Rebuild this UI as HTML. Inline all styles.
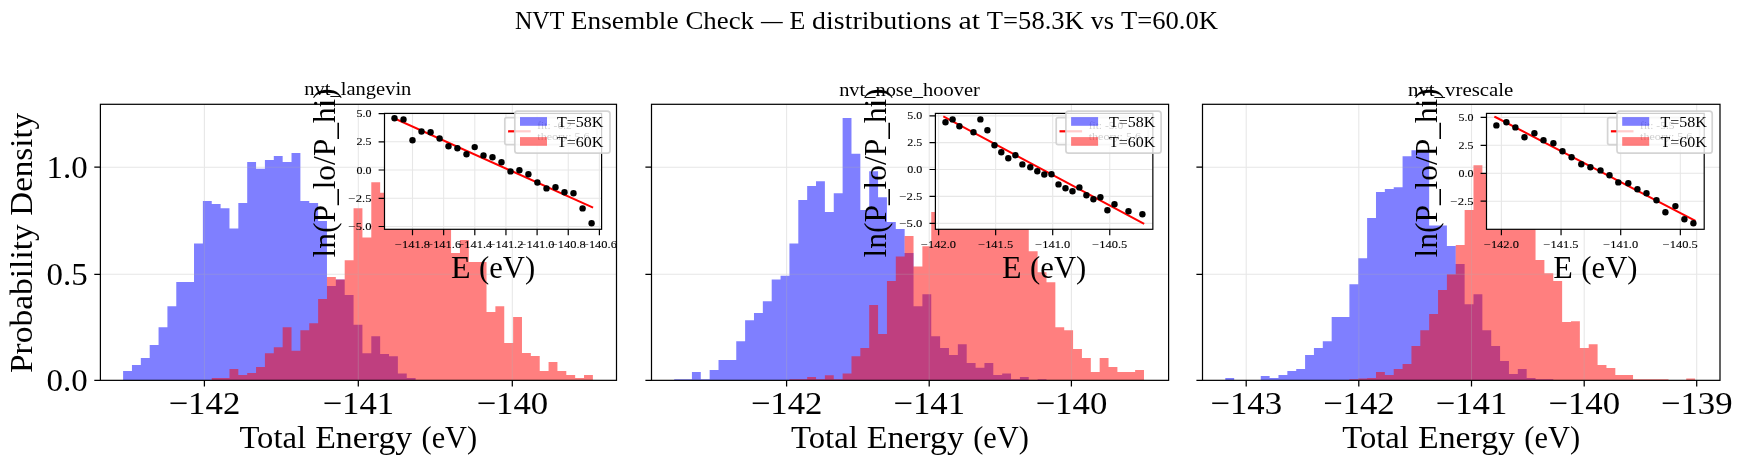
<!DOCTYPE html>
<html lang="en">
<head>
<meta charset="utf-8">
<title>NVT Ensemble Check</title>
<style>
html,body{margin:0;padding:0;background:#fff;}
body{width:1744px;height:465px;overflow:hidden;font-family:"Liberation Serif",serif;}
svg{display:block;will-change:transform;}
svg text{font-family:"Liberation Serif",serif;fill:#000;}
</style>
</head>
<body>
<svg width="1744" height="465" viewBox="0 0 1744 465">
<rect x="0" y="0" width="1744" height="465" fill="#fff"/>
<g id="panel1">
<path d="M123.10,380.35L123.10,371.10L131.96,371.10L131.96,365.10L140.83,365.10L140.83,358.00L149.69,358.00L149.69,345.10L158.56,345.10L158.56,327.20L167.42,327.20L167.42,306.30L176.28,306.30L176.28,282.10L185.15,282.10L185.15,282.10L194.01,282.10L194.01,243.50L202.88,243.50L202.88,201.00L211.74,201.00L211.74,204.00L220.60,204.00L220.60,208.20L229.47,208.20L229.47,228.50L238.33,228.50L238.33,203.10L247.20,203.10L247.20,161.90L256.06,161.90L256.06,168.80L264.92,168.80L264.92,160.10L273.79,160.10L273.79,155.90L282.65,155.90L282.65,161.90L291.52,161.90L291.52,152.90L300.38,152.90L300.38,201.00L309.24,201.00L309.24,203.10L318.11,203.10L318.11,221.10L326.97,221.10L326.97,285.90L335.84,285.90L335.84,279.60L344.70,279.60L344.70,294.90L353.56,294.90L353.56,324.80L362.43,324.80L362.43,353.20L371.29,353.20L371.29,336.20L380.16,336.20L380.16,354.10L389.02,354.10L389.02,356.20L397.88,356.20L397.88,373.50L406.75,373.50L406.75,378.00L415.61,378.00L415.61,380.35Z" fill="#0000ff" fill-opacity="0.5"/>
<path d="M211.74,380.35L211.74,378.00L220.60,378.00L220.60,378.00L229.47,378.00L229.47,369.00L238.33,369.00L238.33,375.00L247.20,375.00L247.20,372.90L256.06,372.90L256.06,366.90L264.92,366.90L264.92,353.20L273.79,353.20L273.79,347.20L282.65,347.20L282.65,327.20L291.52,327.20L291.52,350.80L300.38,350.80L300.38,330.20L309.24,330.20L309.24,323.30L318.11,323.30L318.11,299.10L326.97,299.10L326.97,277.00L335.84,277.00L335.84,279.60L344.70,279.60L344.70,260.30L353.56,260.30L353.56,208.20L362.43,208.20L362.43,237.50L371.29,237.50L371.29,182.20L380.16,182.20L380.16,192.70L389.02,192.70L389.02,175.00L397.88,175.00L397.88,160.00L406.75,160.00L406.75,150.00L415.61,150.00L415.61,165.00L424.48,165.00L424.48,158.00L433.34,158.00L433.34,172.00L442.20,172.00L442.20,185.00L451.07,185.00L451.07,253.00L459.93,253.00L459.93,240.00L468.80,240.00L468.80,262.10L477.66,262.10L477.66,262.10L486.52,262.10L486.52,311.90L495.39,311.90L495.39,306.30L504.25,306.30L504.25,343.00L513.12,343.00L513.12,317.00L521.98,317.00L521.98,353.00L530.84,353.00L530.84,356.00L539.71,356.00L539.71,371.10L548.57,371.10L548.57,362.00L557.44,362.00L557.44,371.10L566.30,371.10L566.30,375.10L575.16,375.10L575.16,378.10L584.03,378.10L584.03,375.10L592.89,375.10L592.89,380.35Z" fill="#ff0000" fill-opacity="0.5"/>
<path d="M204.40,104.3V380.35M358.30,104.3V380.35M512.30,104.3V380.35M100.4,274.3H616.50M100.4,167.2H616.50" stroke="#b0b0b0" stroke-opacity="0.3" stroke-width="1.08" fill="none"/>
<path d="M204.40,380.35v6.1M358.30,380.35v6.1M512.30,380.35v6.1M100.4,380.3h-6.1M100.4,274.3h-6.1M100.4,167.2h-6.1" stroke="#000" stroke-width="1.25" fill="none"/>
<rect x="100.4" y="104.3" width="516.10" height="276.05" fill="none" stroke="#000" stroke-width="1.22"/>
<text x="204.40" y="414.00" font-size="32.16" text-anchor="middle" textLength="71.77" lengthAdjust="spacingAndGlyphs">−142</text>
<text x="358.30" y="414.00" font-size="32.16" text-anchor="middle" textLength="71.77" lengthAdjust="spacingAndGlyphs">−141</text>
<text x="512.30" y="414.00" font-size="32.16" text-anchor="middle" textLength="71.77" lengthAdjust="spacingAndGlyphs">−140</text>
<text x="87.60" y="390.90" font-size="32.16" text-anchor="end" textLength="41.13" lengthAdjust="spacingAndGlyphs">0.0</text>
<text x="87.60" y="284.90" font-size="32.16" text-anchor="end" textLength="41.13" lengthAdjust="spacingAndGlyphs">0.5</text>
<text x="87.60" y="177.80" font-size="32.16" text-anchor="end" textLength="41.13" lengthAdjust="spacingAndGlyphs">1.0</text>
<text y="243.00" font-size="30.55" text-anchor="start" transform="rotate(-90 31.60 243.00)"><tspan x="-98.53" textLength="148.89" lengthAdjust="spacingAndGlyphs">Probability</tspan> <tspan x="58.88" textLength="102.84" lengthAdjust="spacingAndGlyphs">Density</tspan></text>
<text y="447.80" font-size="30.55" text-anchor="start"><tspan x="239.45" textLength="66.71" lengthAdjust="spacingAndGlyphs">Total</tspan> <tspan x="315.22" textLength="97.01" lengthAdjust="spacingAndGlyphs">Energy</tspan> <tspan x="421.53" textLength="55.68" lengthAdjust="spacingAndGlyphs">(eV)</tspan></text>
<text x="357.85" y="95.00" font-size="18.42" text-anchor="middle" textLength="107.07" lengthAdjust="spacingAndGlyphs">nvt_langevin</text>
<rect x="384.50" y="113.4" width="217.10" height="115.90" fill="#fff"/>
<path d="M412.50,113.4V229.3M443.65,113.4V229.3M474.80,113.4V229.3M505.95,113.4V229.3M537.10,113.4V229.3M568.25,113.4V229.3M599.40,113.4V229.3M384.50,113.6H601.60M384.50,141.8H601.60M384.50,170.0H601.60M384.50,198.3H601.60M384.50,226.5H601.60" stroke="#b0b0b0" stroke-opacity="0.3" stroke-width="1.08" fill="none"/>
<path d="M394.5,118.4L592.2,207.3" stroke="#ff0000" stroke-width="2.0" stroke-linecap="square" fill="none"/>
<g fill="#000"><circle cx="394.5" cy="118.3" r="3.2"/><circle cx="403.5" cy="119.4" r="3.2"/><circle cx="412.5" cy="140.3" r="3.2"/><circle cx="421.5" cy="131.5" r="3.2"/><circle cx="430.6" cy="132.3" r="3.2"/><circle cx="439.6" cy="138.5" r="3.2"/><circle cx="448.5" cy="146.3" r="3.2"/><circle cx="457.4" cy="148.3" r="3.2"/><circle cx="466.5" cy="154.2" r="3.2"/><circle cx="474.7" cy="147.1" r="3.2"/><circle cx="483.5" cy="155.4" r="3.2"/><circle cx="492.5" cy="157.2" r="3.2"/><circle cx="501.5" cy="162.3" r="3.2"/><circle cx="510.5" cy="171.4" r="3.2"/><circle cx="519.4" cy="170.3" r="3.2"/><circle cx="528.4" cy="174.2" r="3.2"/><circle cx="537.4" cy="182.5" r="3.2"/><circle cx="546.5" cy="188.4" r="3.2"/><circle cx="555.5" cy="187.2" r="3.2"/><circle cx="564.5" cy="192.3" r="3.2"/><circle cx="573.5" cy="193.3" r="3.2"/><circle cx="582.6" cy="208.4" r="3.2"/><circle cx="591.6" cy="223.3" r="3.2"/></g>
<path d="M412.50,229.3v5.9M443.65,229.3v5.9M474.80,229.3v5.9M505.95,229.3v5.9M537.10,229.3v5.9M568.25,229.3v5.9M599.40,229.3v5.9M384.50,113.6h-5.9M384.50,141.8h-5.9M384.50,170.0h-5.9M384.50,198.3h-5.9M384.50,226.5h-5.9" stroke="#000" stroke-width="1.2" fill="none"/>
<rect x="384.50" y="113.4" width="217.10" height="115.90" fill="none" stroke="#000" stroke-width="1.2"/>
<text x="412.50" y="248.20" font-size="10.58" text-anchor="middle" textLength="34.97" lengthAdjust="spacingAndGlyphs" stroke="#000" stroke-width="0.1">−141.8</text>
<text x="443.65" y="248.20" font-size="10.58" text-anchor="middle" textLength="34.97" lengthAdjust="spacingAndGlyphs" stroke="#000" stroke-width="0.1">−141.6</text>
<text x="474.80" y="248.20" font-size="10.58" text-anchor="middle" textLength="34.97" lengthAdjust="spacingAndGlyphs" stroke="#000" stroke-width="0.1">−141.4</text>
<text x="505.95" y="248.20" font-size="10.58" text-anchor="middle" textLength="34.97" lengthAdjust="spacingAndGlyphs" stroke="#000" stroke-width="0.1">−141.2</text>
<text x="537.10" y="248.20" font-size="10.58" text-anchor="middle" textLength="34.97" lengthAdjust="spacingAndGlyphs" stroke="#000" stroke-width="0.1">−141.0</text>
<text x="568.25" y="248.20" font-size="10.58" text-anchor="middle" textLength="34.97" lengthAdjust="spacingAndGlyphs" stroke="#000" stroke-width="0.1">−140.8</text>
<text x="599.40" y="248.20" font-size="10.58" text-anchor="middle" textLength="34.97" lengthAdjust="spacingAndGlyphs" stroke="#000" stroke-width="0.1">−140.6</text>
<text x="371.50" y="117.10" font-size="10.58" text-anchor="end" textLength="15.03" lengthAdjust="spacingAndGlyphs" stroke="#000" stroke-width="0.1">5.0</text>
<text x="371.50" y="145.30" font-size="10.58" text-anchor="end" textLength="15.03" lengthAdjust="spacingAndGlyphs" stroke="#000" stroke-width="0.1">2.5</text>
<text x="371.50" y="173.50" font-size="10.58" text-anchor="end" textLength="15.03" lengthAdjust="spacingAndGlyphs" stroke="#000" stroke-width="0.1">0.0</text>
<text x="371.50" y="201.80" font-size="10.58" text-anchor="end" textLength="22.95" lengthAdjust="spacingAndGlyphs" stroke="#000" stroke-width="0.1">−2.5</text>
<text x="371.50" y="230.00" font-size="10.58" text-anchor="end" textLength="22.95" lengthAdjust="spacingAndGlyphs" stroke="#000" stroke-width="0.1">−5.0</text>
<text y="278.00" font-size="30.55" text-anchor="start"><tspan x="450.95" textLength="19.56" lengthAdjust="spacingAndGlyphs">E</tspan> <tspan x="479.03" textLength="56.13" lengthAdjust="spacingAndGlyphs">(eV)</tspan></text>
<text x="335.20" y="172.80" font-size="30.55" text-anchor="middle" textLength="169.18" lengthAdjust="spacingAndGlyphs" transform="rotate(-90 335.20 172.80)">ln(P_lo/P_hi)</text>
<rect x="504.80" y="117.6" width="92.20" height="27.0" rx="1.9" fill="#fff" fill-opacity="0.8" stroke="#ccc" stroke-opacity="0.85" stroke-width="1.7"/>
<path d="M508.10,131.3h22.6" stroke="#ff0000" stroke-width="2.2" fill="none"/>
<text y="129.00" font-size="10.58" text-anchor="start"><tspan x="537.30" textLength="13.28" lengthAdjust="spacingAndGlyphs">fit:</tspan> <tspan x="553.59" textLength="18.22" lengthAdjust="spacingAndGlyphs">-6.2</tspan></text>
<text y="139.80" font-size="10.58" text-anchor="start"><tspan x="537.30" textLength="34.21" lengthAdjust="spacingAndGlyphs">theory:</tspan> <tspan x="574.51" textLength="15.03" lengthAdjust="spacingAndGlyphs">5.6</tspan></text>
<rect x="514.80" y="111.1" width="95.2" height="42.1" rx="2.7" fill="#fff" fill-opacity="0.8" stroke="#ccc" stroke-opacity="0.85" stroke-width="1.7"/>
<rect x="520.00" y="117.1" width="27.0" height="8.7" fill="#0000ff" fill-opacity="0.5"/>
<rect x="520.00" y="137.1" width="27.0" height="8.7" fill="#ff0000" fill-opacity="0.5"/>
<text x="557.00" y="126.70" font-size="14.73" text-anchor="start" textLength="46.35" lengthAdjust="spacingAndGlyphs">T=58K</text>
<text x="557.00" y="146.60" font-size="14.73" text-anchor="start" textLength="46.35" lengthAdjust="spacingAndGlyphs">T=60K</text>
</g>
<g id="panel2">
<path d="M674.20,380.35L674.20,379.20L683.06,379.20L683.06,379.20L691.93,379.20L691.93,372.00L700.79,372.00L700.79,379.20L709.66,379.20L709.66,369.90L718.52,369.90L718.52,360.10L727.38,360.10L727.38,360.10L736.25,360.10L736.25,341.20L745.11,341.20L745.11,320.30L753.98,320.30L753.98,313.10L762.84,313.10L762.84,301.20L771.70,301.20L771.70,279.40L780.57,279.40L780.57,275.80L789.43,275.80L789.43,243.50L798.30,243.50L798.30,200.10L807.16,200.10L807.16,186.10L816.02,186.10L816.02,181.30L824.89,181.30L824.89,212.10L833.75,212.10L833.75,193.30L842.62,193.30L842.62,118.00L851.48,118.00L851.48,153.80L860.34,153.80L860.34,210.00L869.21,210.00L869.21,171.20L878.07,171.20L878.07,197.20L886.94,197.20L886.94,222.00L895.80,222.00L895.80,229.10L904.66,229.10L904.66,253.10L913.53,253.10L913.53,306.30L922.39,306.30L922.39,294.30L931.26,294.30L931.26,336.20L940.12,336.20L940.12,348.10L948.98,348.10L948.98,355.00L957.85,355.00L957.85,344.20L966.71,344.20L966.71,363.10L975.58,363.10L975.58,367.80L984.44,367.80L984.44,363.10L993.30,363.10L993.30,375.00L1002.17,375.00L1002.17,373.50L1011.03,373.50L1011.03,379.20L1019.90,379.20L1019.90,377.10L1028.76,377.10L1028.76,380.35Z M1037.62,380.35L1037.62,379.20L1046.49,379.20L1046.49,380.35Z" fill="#0000ff" fill-opacity="0.5"/>
<path d="M789.43,380.35L789.43,379.20L798.30,379.20L798.30,379.20L807.16,379.20L807.16,377.10L816.02,377.10L816.02,379.20L824.89,379.20L824.89,375.30L833.75,375.30L833.75,379.20L842.62,379.20L842.62,373.50L851.48,373.50L851.48,356.20L860.34,356.20L860.34,348.10L869.21,348.10L869.21,305.10L878.07,305.10L878.07,334.10L886.94,334.10L886.94,280.90L895.80,280.90L895.80,256.40L904.66,256.40L904.66,236.10L913.53,236.10L913.53,266.50L922.39,266.50L922.39,246.20L931.26,246.20L931.26,211.90L940.12,211.90L940.12,180.00L948.98,180.00L948.98,170.00L957.85,170.00L957.85,160.00L966.71,160.00L966.71,175.00L975.58,175.00L975.58,165.00L984.44,165.00L984.44,172.00L993.30,172.00L993.30,180.00L1002.17,180.00L1002.17,190.00L1011.03,190.00L1011.03,200.00L1019.90,200.00L1019.90,215.00L1028.76,215.00L1028.76,251.20L1037.62,251.20L1037.62,272.20L1046.49,272.20L1046.49,282.20L1055.35,282.20L1055.35,327.20L1064.22,327.20L1064.22,330.20L1073.08,330.20L1073.08,349.00L1081.94,349.00L1081.94,358.00L1090.81,358.00L1090.81,372.00L1099.67,372.00L1099.67,358.00L1108.54,358.00L1108.54,366.90L1117.40,366.90L1117.40,372.00L1126.26,372.00L1126.26,372.00L1135.13,372.00L1135.13,369.90L1143.99,369.90L1143.99,380.35Z" fill="#ff0000" fill-opacity="0.5"/>
<path d="M786.60,104.3V380.35M929.20,104.3V380.35M1071.40,104.3V380.35M651.5,274.3H1168.60M651.5,167.2H1168.60" stroke="#b0b0b0" stroke-opacity="0.3" stroke-width="1.08" fill="none"/>
<path d="M786.60,380.35v6.1M929.20,380.35v6.1M1071.40,380.35v6.1M651.5,380.3h-6.1M651.5,274.3h-6.1M651.5,167.2h-6.1" stroke="#000" stroke-width="1.25" fill="none"/>
<rect x="651.5" y="104.3" width="517.10" height="276.05" fill="none" stroke="#000" stroke-width="1.22"/>
<text x="786.60" y="414.00" font-size="32.16" text-anchor="middle" textLength="71.77" lengthAdjust="spacingAndGlyphs">−142</text>
<text x="929.20" y="414.00" font-size="32.16" text-anchor="middle" textLength="71.77" lengthAdjust="spacingAndGlyphs">−141</text>
<text x="1071.40" y="414.00" font-size="32.16" text-anchor="middle" textLength="71.77" lengthAdjust="spacingAndGlyphs">−140</text>
<text y="447.80" font-size="30.55" text-anchor="start"><tspan x="791.05" textLength="66.71" lengthAdjust="spacingAndGlyphs">Total</tspan> <tspan x="866.82" textLength="97.01" lengthAdjust="spacingAndGlyphs">Energy</tspan> <tspan x="973.13" textLength="55.68" lengthAdjust="spacingAndGlyphs">(eV)</tspan></text>
<text x="909.45" y="95.80" font-size="18.42" text-anchor="middle" textLength="140.58" lengthAdjust="spacingAndGlyphs">nvt_nose_hoover</text>
<rect x="935.40" y="113.4" width="217.45" height="115.90" fill="#fff"/>
<path d="M938.60,113.4V229.3M995.65,113.4V229.3M1052.70,113.4V229.3M1109.75,113.4V229.3M935.40,115.9H1152.85M935.40,142.6H1152.85M935.40,169.5H1152.85M935.40,196.4H1152.85M935.40,223.4H1152.85" stroke="#b0b0b0" stroke-opacity="0.3" stroke-width="1.08" fill="none"/>
<path d="M944.2,116.9L1143.3,223.5" stroke="#ff0000" stroke-width="2.0" stroke-linecap="square" fill="none"/>
<g fill="#000"><circle cx="945.5" cy="122.3" r="3.2"/><circle cx="952.6" cy="119.4" r="3.2"/><circle cx="959.4" cy="126.2" r="3.2"/><circle cx="973.5" cy="132.2" r="3.2"/><circle cx="980.4" cy="119.4" r="3.2"/><circle cx="987.4" cy="130.3" r="3.2"/><circle cx="994.5" cy="145.3" r="3.2"/><circle cx="1001.3" cy="152.3" r="3.2"/><circle cx="1008.3" cy="158.2" r="3.2"/><circle cx="1015.4" cy="155.2" r="3.2"/><circle cx="1022.4" cy="164.4" r="3.2"/><circle cx="1030.3" cy="167.2" r="3.2"/><circle cx="1037.3" cy="171.3" r="3.2"/><circle cx="1044.3" cy="174.5" r="3.2"/><circle cx="1051.5" cy="174.3" r="3.2"/><circle cx="1058.5" cy="184.4" r="3.2"/><circle cx="1065.5" cy="188.3" r="3.2"/><circle cx="1072.5" cy="191.3" r="3.2"/><circle cx="1079.4" cy="187.4" r="3.2"/><circle cx="1086.4" cy="195.3" r="3.2"/><circle cx="1093.4" cy="199.3" r="3.2"/><circle cx="1100.4" cy="197.3" r="3.2"/><circle cx="1107.4" cy="210.2" r="3.2"/><circle cx="1114.5" cy="204.3" r="3.2"/><circle cx="1128.5" cy="211.3" r="3.2"/><circle cx="1142.4" cy="214.3" r="3.2"/></g>
<path d="M938.60,229.3v5.9M995.65,229.3v5.9M1052.70,229.3v5.9M1109.75,229.3v5.9M935.40,115.9h-5.9M935.40,142.6h-5.9M935.40,169.5h-5.9M935.40,196.4h-5.9M935.40,223.4h-5.9" stroke="#000" stroke-width="1.2" fill="none"/>
<rect x="935.40" y="113.4" width="217.45" height="115.90" fill="none" stroke="#000" stroke-width="1.2"/>
<text x="938.60" y="248.20" font-size="10.58" text-anchor="middle" textLength="34.97" lengthAdjust="spacingAndGlyphs" stroke="#000" stroke-width="0.1">−142.0</text>
<text x="995.65" y="248.20" font-size="10.58" text-anchor="middle" textLength="34.97" lengthAdjust="spacingAndGlyphs" stroke="#000" stroke-width="0.1">−141.5</text>
<text x="1052.70" y="248.20" font-size="10.58" text-anchor="middle" textLength="34.97" lengthAdjust="spacingAndGlyphs" stroke="#000" stroke-width="0.1">−141.0</text>
<text x="1109.75" y="248.20" font-size="10.58" text-anchor="middle" textLength="34.97" lengthAdjust="spacingAndGlyphs" stroke="#000" stroke-width="0.1">−140.5</text>
<text x="922.40" y="119.40" font-size="10.58" text-anchor="end" textLength="15.03" lengthAdjust="spacingAndGlyphs" stroke="#000" stroke-width="0.1">5.0</text>
<text x="922.40" y="146.10" font-size="10.58" text-anchor="end" textLength="15.03" lengthAdjust="spacingAndGlyphs" stroke="#000" stroke-width="0.1">2.5</text>
<text x="922.40" y="173.00" font-size="10.58" text-anchor="end" textLength="15.03" lengthAdjust="spacingAndGlyphs" stroke="#000" stroke-width="0.1">0.0</text>
<text x="922.40" y="199.90" font-size="10.58" text-anchor="end" textLength="22.95" lengthAdjust="spacingAndGlyphs" stroke="#000" stroke-width="0.1">−2.5</text>
<text x="922.40" y="226.90" font-size="10.58" text-anchor="end" textLength="22.95" lengthAdjust="spacingAndGlyphs" stroke="#000" stroke-width="0.1">−5.0</text>
<text y="278.00" font-size="30.55" text-anchor="start"><tspan x="1002.02" textLength="19.56" lengthAdjust="spacingAndGlyphs">E</tspan> <tspan x="1030.10" textLength="56.13" lengthAdjust="spacingAndGlyphs">(eV)</tspan></text>
<text x="886.30" y="172.80" font-size="30.55" text-anchor="middle" textLength="169.18" lengthAdjust="spacingAndGlyphs" transform="rotate(-90 886.30 172.80)">ln(P_lo/P_hi)</text>
<rect x="1056.20" y="117.6" width="92.05" height="27.0" rx="1.9" fill="#fff" fill-opacity="0.8" stroke="#ccc" stroke-opacity="0.85" stroke-width="1.7"/>
<path d="M1059.50,131.3h22.6" stroke="#ff0000" stroke-width="2.2" fill="none"/>
<text y="129.00" font-size="10.58" text-anchor="start"><tspan x="1088.70" textLength="13.28" lengthAdjust="spacingAndGlyphs">fit:</tspan> <tspan x="1104.99" textLength="18.22" lengthAdjust="spacingAndGlyphs">-5.0</tspan></text>
<text y="139.80" font-size="10.58" text-anchor="start"><tspan x="1088.70" textLength="34.21" lengthAdjust="spacingAndGlyphs">theory:</tspan> <tspan x="1125.91" textLength="15.03" lengthAdjust="spacingAndGlyphs">5.6</tspan></text>
<rect x="1065.90" y="111.1" width="95.2" height="42.1" rx="2.7" fill="#fff" fill-opacity="0.8" stroke="#ccc" stroke-opacity="0.85" stroke-width="1.7"/>
<rect x="1071.10" y="117.1" width="27.0" height="8.7" fill="#0000ff" fill-opacity="0.5"/>
<rect x="1071.10" y="137.1" width="27.0" height="8.7" fill="#ff0000" fill-opacity="0.5"/>
<text x="1109.00" y="126.70" font-size="14.73" text-anchor="start" textLength="46.35" lengthAdjust="spacingAndGlyphs">T=58K</text>
<text x="1109.00" y="146.60" font-size="14.73" text-anchor="start" textLength="46.35" lengthAdjust="spacingAndGlyphs">T=60K</text>
</g>
<g id="panel3">
<path d="M1225.30,380.35L1225.30,378.00L1234.16,378.00L1234.16,380.35Z M1260.76,380.35L1260.76,375.90L1269.62,375.90L1269.62,378.00L1278.48,378.00L1278.48,375.00L1287.35,375.00L1287.35,371.10L1296.21,371.10L1296.21,369.00L1305.08,369.00L1305.08,355.00L1313.94,355.00L1313.94,348.10L1322.80,348.10L1322.80,341.20L1331.67,341.20L1331.67,317.00L1340.53,317.00L1340.53,317.00L1349.40,317.00L1349.40,284.20L1358.26,284.20L1358.26,258.20L1367.12,258.20L1367.12,218.10L1375.99,218.10L1375.99,192.10L1384.85,192.10L1384.85,189.10L1393.72,189.10L1393.72,187.30L1402.58,187.30L1402.58,156.20L1411.44,156.20L1411.44,150.20L1420.31,150.20L1420.31,150.50L1429.17,150.50L1429.17,225.60L1438.04,225.60L1438.04,225.60L1446.90,225.60L1446.90,245.90L1455.76,245.90L1455.76,264.10L1464.63,264.10L1464.63,304.20L1473.49,304.20L1473.49,294.30L1482.36,294.30L1482.36,330.20L1491.22,330.20L1491.22,346.00L1500.08,346.00L1500.08,361.00L1508.95,361.00L1508.95,374.10L1517.81,374.10L1517.81,369.00L1526.68,369.00L1526.68,378.00L1535.54,378.00L1535.54,379.30L1544.40,379.30L1544.40,379.30L1553.27,379.30L1553.27,380.35Z" fill="#0000ff" fill-opacity="0.5"/>
<path d="M1349.40,380.35L1349.40,379.20L1358.26,379.20L1358.26,378.60L1367.12,378.60L1367.12,378.00L1375.99,378.00L1375.99,372.00L1384.85,372.00L1384.85,375.00L1393.72,375.00L1393.72,369.00L1402.58,369.00L1402.58,363.90L1411.44,363.90L1411.44,346.00L1420.31,346.00L1420.31,330.20L1429.17,330.20L1429.17,314.00L1438.04,314.00L1438.04,290.10L1446.90,290.10L1446.90,274.30L1455.76,274.30L1455.76,245.00L1464.63,245.00L1464.63,209.90L1473.49,209.90L1473.49,165.30L1482.36,165.30L1482.36,174.00L1491.22,174.00L1491.22,170.00L1500.08,170.00L1500.08,160.00L1508.95,160.00L1508.95,165.00L1517.81,165.00L1517.81,175.00L1526.68,175.00L1526.68,190.00L1535.54,190.00L1535.54,260.00L1544.40,260.00L1544.40,273.30L1553.27,273.30L1553.27,281.00L1562.13,281.00L1562.13,322.10L1571.00,322.10L1571.00,321.20L1579.86,321.20L1579.86,348.10L1588.72,348.10L1588.72,344.20L1597.59,344.20L1597.59,365.10L1606.45,365.10L1606.45,368.10L1615.32,368.10L1615.32,375.00L1624.18,375.00L1624.18,375.00L1633.04,375.00L1633.04,379.20L1641.91,379.20L1641.91,379.20L1650.77,379.20L1650.77,379.20L1659.64,379.20L1659.64,379.20L1668.50,379.20L1668.50,380.35Z M1686.23,380.35L1686.23,378.60L1695.09,378.60L1695.09,380.35Z" fill="#ff0000" fill-opacity="0.5"/>
<path d="M1246.20,104.3V380.35M1358.80,104.3V380.35M1471.50,104.3V380.35M1584.20,104.3V380.35M1696.70,104.3V380.35M1202.5,274.3H1720.00M1202.5,167.2H1720.00" stroke="#b0b0b0" stroke-opacity="0.3" stroke-width="1.08" fill="none"/>
<path d="M1246.20,380.35v6.1M1358.80,380.35v6.1M1471.50,380.35v6.1M1584.20,380.35v6.1M1696.70,380.35v6.1M1202.5,380.3h-6.1M1202.5,274.3h-6.1M1202.5,167.2h-6.1" stroke="#000" stroke-width="1.25" fill="none"/>
<rect x="1202.5" y="104.3" width="517.50" height="276.05" fill="none" stroke="#000" stroke-width="1.22"/>
<text x="1246.20" y="414.00" font-size="32.16" text-anchor="middle" textLength="71.77" lengthAdjust="spacingAndGlyphs">−143</text>
<text x="1358.80" y="414.00" font-size="32.16" text-anchor="middle" textLength="71.77" lengthAdjust="spacingAndGlyphs">−142</text>
<text x="1471.50" y="414.00" font-size="32.16" text-anchor="middle" textLength="71.77" lengthAdjust="spacingAndGlyphs">−141</text>
<text x="1584.20" y="414.00" font-size="32.16" text-anchor="middle" textLength="71.77" lengthAdjust="spacingAndGlyphs">−140</text>
<text x="1696.70" y="414.00" font-size="32.16" text-anchor="middle" textLength="71.77" lengthAdjust="spacingAndGlyphs">−139</text>
<text y="447.80" font-size="30.55" text-anchor="start"><tspan x="1342.25" textLength="66.71" lengthAdjust="spacingAndGlyphs">Total</tspan> <tspan x="1418.02" textLength="97.01" lengthAdjust="spacingAndGlyphs">Energy</tspan> <tspan x="1524.33" textLength="55.68" lengthAdjust="spacingAndGlyphs">(eV)</tspan></text>
<text x="1460.65" y="95.80" font-size="18.42" text-anchor="middle" textLength="105.32" lengthAdjust="spacingAndGlyphs">nvt_vrescale</text>
<rect x="1486.50" y="113.4" width="217.70" height="115.90" fill="#fff"/>
<path d="M1501.40,113.4V229.3M1561.05,113.4V229.3M1620.70,113.4V229.3M1680.35,113.4V229.3M1486.50,117.4H1704.20M1486.50,145.3H1704.20M1486.50,173.3H1704.20M1486.50,201.2H1704.20" stroke="#b0b0b0" stroke-opacity="0.3" stroke-width="1.08" fill="none"/>
<path d="M1495.2,117.0L1694.6,220.4" stroke="#ff0000" stroke-width="2.0" stroke-linecap="square" fill="none"/>
<g fill="#000"><circle cx="1496.4" cy="125.4" r="3.2"/><circle cx="1506.4" cy="122.3" r="3.2"/><circle cx="1515.4" cy="127.4" r="3.2"/><circle cx="1524.5" cy="137.3" r="3.2"/><circle cx="1534.4" cy="133.3" r="3.2"/><circle cx="1543.5" cy="140.3" r="3.2"/><circle cx="1553.4" cy="143.3" r="3.2"/><circle cx="1562.5" cy="151.3" r="3.2"/><circle cx="1571.6" cy="157.3" r="3.2"/><circle cx="1581.3" cy="164.2" r="3.2"/><circle cx="1590.4" cy="167.2" r="3.2"/><circle cx="1600.5" cy="170.4" r="3.2"/><circle cx="1609.5" cy="175.2" r="3.2"/><circle cx="1618.3" cy="182.4" r="3.2"/><circle cx="1628.3" cy="183.3" r="3.2"/><circle cx="1637.4" cy="189.2" r="3.2"/><circle cx="1646.5" cy="193.2" r="3.2"/><circle cx="1656.5" cy="200.3" r="3.2"/><circle cx="1665.4" cy="212.2" r="3.2"/><circle cx="1675.4" cy="206.1" r="3.2"/><circle cx="1684.4" cy="219.2" r="3.2"/><circle cx="1693.4" cy="223.2" r="3.2"/></g>
<path d="M1501.40,229.3v5.9M1561.05,229.3v5.9M1620.70,229.3v5.9M1680.35,229.3v5.9M1486.50,117.4h-5.9M1486.50,145.3h-5.9M1486.50,173.3h-5.9M1486.50,201.2h-5.9" stroke="#000" stroke-width="1.2" fill="none"/>
<rect x="1486.50" y="113.4" width="217.70" height="115.90" fill="none" stroke="#000" stroke-width="1.2"/>
<text x="1501.40" y="248.20" font-size="10.58" text-anchor="middle" textLength="34.97" lengthAdjust="spacingAndGlyphs" stroke="#000" stroke-width="0.1">−142.0</text>
<text x="1561.05" y="248.20" font-size="10.58" text-anchor="middle" textLength="34.97" lengthAdjust="spacingAndGlyphs" stroke="#000" stroke-width="0.1">−141.5</text>
<text x="1620.70" y="248.20" font-size="10.58" text-anchor="middle" textLength="34.97" lengthAdjust="spacingAndGlyphs" stroke="#000" stroke-width="0.1">−141.0</text>
<text x="1680.35" y="248.20" font-size="10.58" text-anchor="middle" textLength="34.97" lengthAdjust="spacingAndGlyphs" stroke="#000" stroke-width="0.1">−140.5</text>
<text x="1473.50" y="120.90" font-size="10.58" text-anchor="end" textLength="15.03" lengthAdjust="spacingAndGlyphs" stroke="#000" stroke-width="0.1">5.0</text>
<text x="1473.50" y="148.80" font-size="10.58" text-anchor="end" textLength="15.03" lengthAdjust="spacingAndGlyphs" stroke="#000" stroke-width="0.1">2.5</text>
<text x="1473.50" y="176.80" font-size="10.58" text-anchor="end" textLength="15.03" lengthAdjust="spacingAndGlyphs" stroke="#000" stroke-width="0.1">0.0</text>
<text x="1473.50" y="204.70" font-size="10.58" text-anchor="end" textLength="22.95" lengthAdjust="spacingAndGlyphs" stroke="#000" stroke-width="0.1">−2.5</text>
<text y="278.00" font-size="30.55" text-anchor="start"><tspan x="1553.25" textLength="19.56" lengthAdjust="spacingAndGlyphs">E</tspan> <tspan x="1581.33" textLength="56.13" lengthAdjust="spacingAndGlyphs">(eV)</tspan></text>
<text x="1437.40" y="172.80" font-size="30.55" text-anchor="middle" textLength="169.18" lengthAdjust="spacingAndGlyphs" transform="rotate(-90 1437.40 172.80)">ln(P_lo/P_hi)</text>
<rect x="1607.60" y="117.6" width="92.00" height="27.0" rx="1.9" fill="#fff" fill-opacity="0.8" stroke="#ccc" stroke-opacity="0.85" stroke-width="1.7"/>
<path d="M1610.90,131.3h22.6" stroke="#ff0000" stroke-width="2.2" fill="none"/>
<text y="129.00" font-size="10.58" text-anchor="start"><tspan x="1640.10" textLength="13.28" lengthAdjust="spacingAndGlyphs">fit:</tspan> <tspan x="1656.39" textLength="18.22" lengthAdjust="spacingAndGlyphs">-5.5</tspan></text>
<text y="139.80" font-size="10.58" text-anchor="start"><tspan x="1640.10" textLength="34.21" lengthAdjust="spacingAndGlyphs">theory:</tspan> <tspan x="1677.31" textLength="15.03" lengthAdjust="spacingAndGlyphs">5.6</tspan></text>
<rect x="1617.00" y="111.1" width="95.2" height="42.1" rx="2.7" fill="#fff" fill-opacity="0.8" stroke="#ccc" stroke-opacity="0.85" stroke-width="1.7"/>
<rect x="1622.20" y="117.1" width="27.0" height="8.7" fill="#0000ff" fill-opacity="0.5"/>
<rect x="1622.20" y="137.1" width="27.0" height="8.7" fill="#ff0000" fill-opacity="0.5"/>
<text x="1660.40" y="126.70" font-size="14.73" text-anchor="start" textLength="46.35" lengthAdjust="spacingAndGlyphs">T=58K</text>
<text x="1660.40" y="146.60" font-size="14.73" text-anchor="start" textLength="46.35" lengthAdjust="spacingAndGlyphs">T=60K</text>
</g>
<text y="28.90" font-size="24.25" text-anchor="start"><tspan x="514.89" textLength="49.02" lengthAdjust="spacingAndGlyphs">NVT</tspan> <tspan x="570.79" textLength="107.80" lengthAdjust="spacingAndGlyphs">Ensemble</tspan> <tspan x="685.47" textLength="68.57" lengthAdjust="spacingAndGlyphs">Check</tspan> <tspan x="760.91" textLength="21.65" lengthAdjust="spacingAndGlyphs">—</tspan> <tspan x="789.45" textLength="15.80" lengthAdjust="spacingAndGlyphs">E</tspan> <tspan x="812.13" textLength="139.38" lengthAdjust="spacingAndGlyphs">distributions</tspan> <tspan x="958.40" textLength="21.61" lengthAdjust="spacingAndGlyphs">at</tspan> <tspan x="986.89" textLength="96.96" lengthAdjust="spacingAndGlyphs">T=58.3K</tspan> <tspan x="1090.73" textLength="23.34" lengthAdjust="spacingAndGlyphs">vs</tspan> <tspan x="1120.95" textLength="96.96" lengthAdjust="spacingAndGlyphs">T=60.0K</tspan></text>
</svg>
</body>
</html>
